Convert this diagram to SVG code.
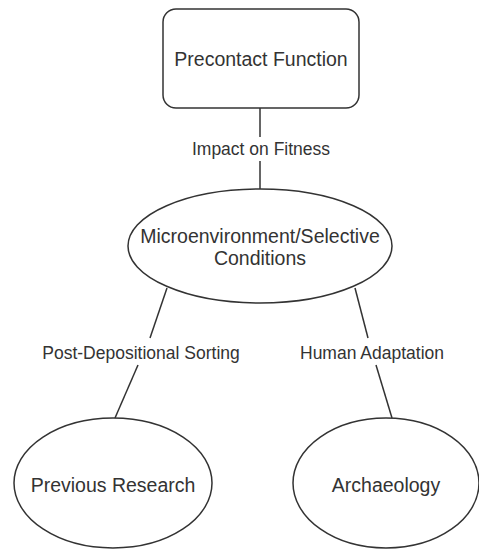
<svg xmlns="http://www.w3.org/2000/svg" width="479" height="550" viewBox="0 0 479 550">
<style>
.n{fill:#fff;stroke:#333;stroke-width:1.5}
.e{stroke:#333;stroke-width:1.5;fill:none}
.t{font-family:"Liberation Sans",Arial,sans-serif;font-size:19.5px;fill:#333;text-anchor:middle}
.l{font-family:"Liberation Sans",Arial,sans-serif;font-size:17.5px;fill:#333;text-anchor:middle}
</style>
<rect width="479" height="550" fill="#fff"/>
<g id="connectors">
<line class="e" x1="260" y1="108" x2="260" y2="137"/>
<line class="e" x1="260" y1="161" x2="260" y2="189"/>
<line class="e" x1="167" y1="288" x2="150" y2="338"/>
<line class="e" x1="138" y1="365" x2="115" y2="418"/>
<line class="e" x1="355" y1="288" x2="368" y2="338"/>
<line class="e" x1="376" y1="365" x2="392" y2="418"/>
<text class="l" x="261" y="155">Impact on Fitness</text>
<text class="l" x="141" y="359">Post-Depositional Sorting</text>
<text class="l" x="372" y="359">Human Adaptation</text>
</g>
<g id="precontact">
<rect class="n" x="163" y="9" width="196" height="99" rx="13"/>
<text class="t" x="261" y="66">Precontact Function</text>
</g>
<g id="micro">
<ellipse class="n" cx="260" cy="246" rx="132" ry="57"/>
<text class="t" x="260" y="243">Microenvironment/Selective</text>
<text class="t" x="260" y="265">Conditions</text>
</g>
<g id="previous">
<ellipse class="n" cx="113" cy="483" rx="99" ry="65"/>
<text class="t" x="113" y="492">Previous Research</text>
</g>
<g id="archaeology">
<ellipse class="n" cx="386" cy="483" rx="93" ry="65"/>
<text class="t" x="386" y="492">Archaeology</text>
</g>
</svg>
